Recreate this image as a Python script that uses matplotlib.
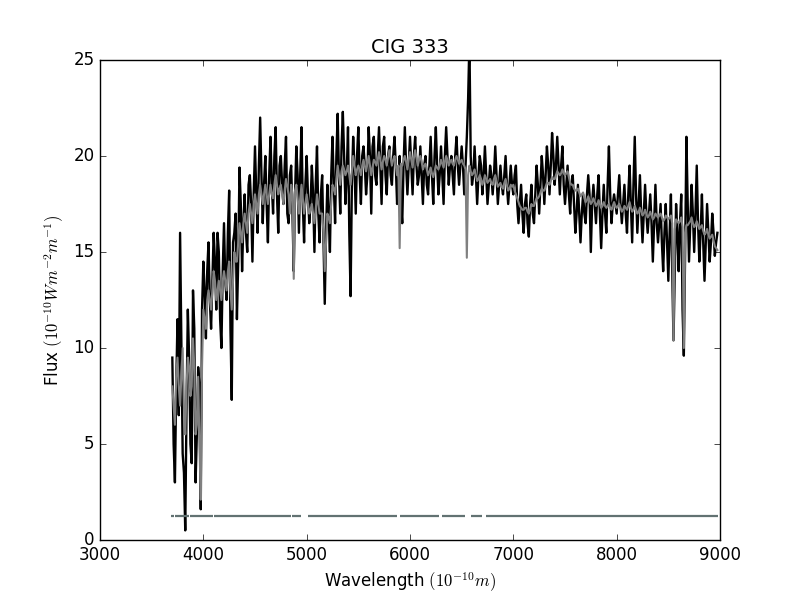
import numpy as np
import matplotlib
matplotlib.use("Agg")
import matplotlib.pyplot as plt

plt.style.use("classic")

# wavelength grid (Angstrom): main samples and in-between samples
wave_main = np.arange(3700, 8976, 25)
wave_mid = np.arange(3712.5, 8963, 25)

flux_obs_main = [
    9.5, 3.0, 11.5, 16.0, 4.5, 0.5, 12.0, 5.0, 13.0, 3.0, 9.0, 1.6,
    14.5, 10.5, 15.5, 11.0, 16.0, 12.0, 15.0, 10.0, 16.5, 12.5, 18.2, 7.3, 16.0, 11.5, 19.4, 14.0, 18.0, 15.0, 19.0, 14.5,
    20.5, 16.0, 22.0, 16.5, 20.0, 15.5, 21.0, 17.0, 21.5, 16.0, 20.0, 17.5, 21.0, 16.5, 19.5, 14.0, 20.5, 16.0, 21.5, 15.5,
    20.0, 16.5, 19.5, 15.0, 20.5, 15.5, 19.0, 12.3, 18.5, 15.0, 21.0, 16.5, 22.2, 17.0, 22.3, 17.5, 21.5, 12.7, 21.0, 17.0,
    21.5, 17.5, 20.5, 18.0, 21.5, 17.0, 21.0, 18.5, 21.5, 17.5, 21.0, 18.0, 20.5, 18.5, 21.0, 17.5, 20.0, 16.5, 21.5, 18.0,
    21.0, 18.0, 21.0, 18.5, 20.5, 17.5, 20.0, 18.0, 21.0, 17.5, 21.5, 18.0, 20.5, 17.5, 21.5, 18.5, 20.0, 18.0, 21.0, 18.5,
    20.5, 18.0, 21.0, 26.0, 18.5, 20.5, 17.5, 20.0, 18.0, 20.5, 17.5, 19.5, 18.0, 20.5, 17.5, 19.5, 18.0, 20.0, 17.5, 19.5,
    18.0, 19.5, 16.5, 18.5, 16.0, 18.0, 15.8, 18.5, 16.5, 19.5, 17.0, 20.0, 17.5, 20.5, 18.0, 21.2, 18.5, 21.0, 18.0, 20.5,
    17.5, 19.5, 17.0, 19.0, 16.0, 18.5, 15.5, 18.0, 16.5, 19.0, 15.0, 18.5, 16.5, 19.0, 15.2, 18.5, 16.0, 20.5, 16.5, 18.0,
    17.0, 19.0, 16.5, 18.5, 16.0, 19.5, 15.5, 21.0, 16.0, 19.0, 15.5, 18.5, 16.0, 18.0, 14.5, 18.5, 15.5, 17.5, 14.0, 17.5,
    13.5, 18.0, 10.4, 17.5, 14.0, 18.0, 9.6, 21.0, 14.5, 18.5, 15.0, 19.5, 14.5, 18.0, 13.5, 17.5, 14.5, 17.0, 14.8, 16.0,
]

flux_obs_mid = [
    5.0, 8.0, 6.5, 10.0, 3.5, 7.0, 9.5, 4.0, 11.0, 5.5, 8.0,
    12.0,
    13.0, 14.0, 12.5, 13.5, 14.5, 16.0, 11.5, 14.0, 13.5, 16.0, 11.0, 15.5, 17.0, 14.5, 17.5, 16.5, 16.0, 18.5, 17.5, 18.0,
    18.0, 19.5, 19.0, 18.5, 17.5, 19.0, 18.5, 20.0, 18.0, 19.5, 18.5, 19.5, 17.0, 19.0, 17.0, 18.0, 19.0, 19.0, 17.5, 18.5,
    18.0, 17.5, 18.0, 18.5, 17.0, 18.0, 15.5, 16.0, 17.0, 19.0, 18.5, 20.0, 19.0, 20.5, 20.0, 19.0, 16.0, 18.5, 19.5, 20.0,
    19.0, 20.0, 19.5, 19.0, 20.0, 20.5, 19.0, 20.0, 19.5, 20.5, 19.0, 20.0, 19.0, 20.0, 19.5, 18.5, 17.5, 19.5, 19.5, 19.5,
    19.5, 20.0, 19.5, 19.0, 19.0, 19.5, 18.5, 19.5, 19.0, 20.0, 19.5, 19.0, 19.0, 20.0, 20.0, 19.5, 19.0, 20.0, 19.5, 19.5,
    19.5, 19.5, 23.0, 20.0, 19.0, 19.0, 19.0, 19.5, 19.0, 19.0, 18.5, 19.0, 19.0, 19.0, 18.5, 18.5, 19.0, 18.5, 18.5, 18.5,
    19.0, 17.5, 17.5, 17.0, 17.5, 16.5, 17.5, 17.0, 18.0, 18.5, 18.5, 19.0, 19.0, 19.5, 19.5, 20.0, 19.5, 19.5, 19.5, 18.5,
    18.5, 18.0, 18.5, 17.5, 17.0, 17.0, 17.0, 17.0, 18.0, 18.0, 17.5, 17.5, 18.0, 17.0, 17.0, 17.0, 18.5, 18.0, 17.5, 17.5,
    18.0, 17.5, 17.5, 17.0, 18.0, 17.5, 18.5, 18.0, 17.5, 17.0, 17.0, 17.0, 17.0, 16.5, 16.5, 16.5, 16.5, 15.5, 16.0, 15.5,
    16.0, 14.0, 14.0, 16.0, 16.5, 12.0, 15.0, 17.5, 16.5, 17.0, 17.0, 16.5, 16.0, 15.5, 15.5, 16.0, 15.5, 16.0, 15.5,
]

flux_model_main = [
    8.0, 6.0, 9.5, 7.0, 10.0, 5.5, 9.5, 7.5, 10.5, 5.5, 8.5, 2.1,
    12.0, 11.0, 13.0, 12.0, 14.0, 12.5, 13.5, 12.5, 14.0, 13.0, 14.5, 12.0, 15.0, 14.5, 16.5, 15.5, 17.0, 16.0, 17.5, 16.5,
    18.0, 17.0, 18.5, 17.5, 18.5, 17.5, 18.5, 17.8, 19.0, 18.0, 18.5, 17.5, 18.8, 18.0, 18.5, 13.6, 18.5, 17.0, 18.5, 17.0,
    18.0, 17.0, 17.5, 16.5, 18.0, 17.0, 17.0, 14.0, 17.0, 16.5, 18.5, 18.0, 19.5, 18.5, 19.5, 19.0, 19.5, 18.5, 20.0, 19.0,
    19.5, 19.0, 19.8, 19.2, 20.0, 19.0, 19.8, 19.5, 20.2, 19.3, 20.0, 19.5, 20.3, 19.5, 20.0, 19.0, 15.2, 19.5, 20.0, 19.3,
    20.2, 19.4, 20.3, 19.5, 20.0, 19.3, 19.6, 19.0, 19.4, 18.9, 19.5, 19.3, 19.8, 19.4, 20.0, 19.5, 19.8, 19.5, 20.0, 19.6,
    19.8, 19.5, 14.7, 19.5, 19.0, 19.3, 18.7, 19.0, 18.5, 19.0, 18.6, 18.8, 18.5, 19.0, 18.4, 18.6, 18.3, 18.8, 18.2, 18.5,
    18.5, 18.0, 17.6, 17.3, 17.2, 17.3, 17.0, 17.5, 17.4, 17.8, 17.9, 18.3, 18.2, 18.6, 18.5, 18.9, 18.8, 19.2, 19.0, 19.3,
    19.0, 19.2, 18.6, 18.5, 18.2, 18.3, 17.9, 18.1, 17.6, 17.9, 17.5, 17.8, 17.4, 17.7, 17.3, 17.6, 17.3, 17.5, 17.2, 17.6,
    17.3, 17.5, 17.1, 17.4, 17.2, 17.6, 17.1, 17.4, 17.0, 17.3, 16.9, 17.2, 16.8, 17.1, 16.7, 17.0, 16.8, 17.0, 16.6, 16.9,
    16.7, 16.9, 10.4, 16.7, 16.5, 16.8, 10.0, 16.4, 16.5, 16.8, 16.3, 16.6, 16.2, 16.4, 15.9, 16.2, 15.7, 15.9, 15.3, 15.1,
]

flux_model_mid = [
    7.0, 8.5, 8.0, 8.5, 7.0, 8.0, 9.0, 8.0, 9.0, 6.0, 5.0,
    9.0,
    11.5, 12.5, 12.5, 13.0, 13.5, 13.0, 13.0, 13.5, 13.5, 14.0, 13.0, 13.5, 14.5, 15.5, 16.0, 16.5, 16.5, 17.0, 17.0, 17.5,
    17.5, 18.0, 18.0, 18.0, 18.0, 18.0, 18.0, 18.5, 18.5, 18.3, 18.0, 18.2, 18.4, 17.0, 18.0, 18.2, 17.8, 17.8, 17.8, 17.5,
    17.5, 17.2, 17.0, 17.2, 17.5, 17.0, 16.0, 15.5, 16.8, 17.5, 18.3, 18.8, 19.0, 19.2, 19.3, 19.2, 19.0, 19.2, 19.5, 19.3,
    19.3, 19.5, 19.5, 19.6, 19.5, 19.4, 19.7, 19.8, 19.8, 19.7, 19.8, 19.9, 19.9, 19.8, 19.5, 19.5, 19.6, 19.8, 19.7, 19.8,
    19.8, 19.9, 19.9, 19.8, 19.7, 19.5, 19.3, 19.2, 19.1, 19.2, 19.4, 19.5, 19.6, 19.7, 19.8, 19.7, 19.6, 19.8, 19.8, 19.7,
    19.6, 19.3, 19.0, 19.2, 19.1, 19.0, 18.8, 18.8, 18.7, 18.8, 18.7, 18.6, 18.8, 18.7, 18.5, 18.4, 18.6, 18.5, 18.3, 18.4,
    18.2, 17.8, 17.4, 17.2, 17.3, 17.1, 17.2, 17.4, 17.6, 17.8, 18.1, 18.2, 18.4, 18.6, 18.7, 18.8, 19.0, 19.1, 19.1, 19.1,
    19.1, 18.9, 18.5, 18.3, 18.2, 18.1, 18.0, 17.8, 17.7, 17.7, 17.6, 17.6, 17.5, 17.5, 17.4, 17.4, 17.4, 17.3, 17.4, 17.4,
    17.4, 17.3, 17.2, 17.3, 17.4, 17.3, 17.2, 17.2, 17.1, 17.1, 17.0, 17.0, 16.9, 16.9, 16.8, 16.9, 16.9, 16.8, 16.7, 16.8,
    16.8, 16.5, 16.2, 16.6, 16.6, 16.3, 16.0, 16.4, 16.6, 16.5, 16.4, 16.4, 16.3, 16.1, 16.0, 15.9, 15.8, 15.6, 15.2,
]

mask_level = 1.25
mask_segments = [(3687, 3716), (3726, 3861), (3871, 4094), (4103, 4848), (4858, 4945),
                 (5013, 5874), (5903, 6281), (6310, 6532), (6590, 6697), (6735, 8980)]

wave = np.concatenate([wave_main, wave_mid])
order = np.argsort(wave)
wave = wave[order]
flux_obs = np.concatenate([flux_obs_main, flux_obs_mid])[order]
flux_model = np.concatenate([flux_model_main, flux_model_mid])[order]

fig = plt.figure(figsize=(8, 6), dpi=100, facecolor="white")
ax = fig.add_axes([0.125, 0.1, 0.775, 0.8])
ax.plot(wave, flux_obs, color="black", lw=1.7)
ax.plot(wave, flux_model, color="0.5", lw=1.5)
for s, e in mask_segments:
    ax.plot([s, e], [mask_level, mask_level], color="#627272", lw=1.6, solid_capstyle="butt")

ax.set_xlim(3000, 9000)
ax.set_ylim(0, 25)
ax.set_xticks([3000, 4000, 5000, 6000, 7000, 8000, 9000])
ax.set_yticks([0, 5, 10, 15, 20, 25])
ax.set_title("CIG 333", fontsize=14)
ax.set_xlabel(r"Wavelength $(10^{-10} m)$", fontsize=12)
ax.set_ylabel(r"Flux $(10^{-10} Wm^{-2}m^{-1})$", fontsize=12)
fig.savefig("out.png", dpi=100, facecolor="white")
